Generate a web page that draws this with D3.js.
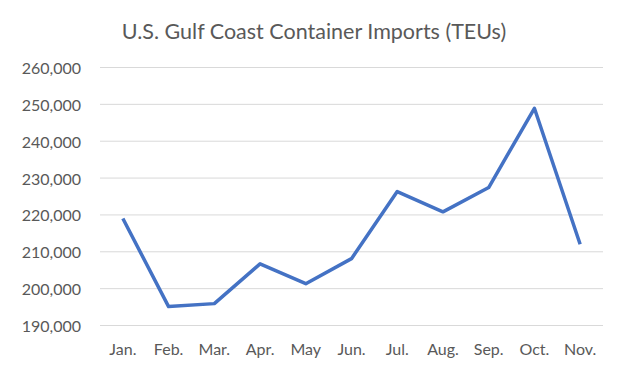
<!DOCTYPE html>
<html>
<head>
<meta charset="utf-8">
<script src="https://cdn.jsdelivr.net/npm/d3@7"></script>
<style>
  body { margin: 0; background: #fff; }
  svg { display: block; }
</style>
</head>
<body>
<svg width="628" height="376"></svg>
<script>
const months = ['Jan.', 'Feb.', 'Mar.', 'Apr.', 'May', 'Jun.', 'Jul.', 'Aug.', 'Sep.', 'Oct.', 'Nov.']
const imports = [218900, 195000, 195800, 206600, 201200, 208000, 226200, 220700, 227300, 248800, 211900]
const yTicks = [190000, 200000, 210000, 220000, 230000, 240000, 250000, 260000]

const font = 'Lato, "Open Sans", sans-serif'
const svg = d3.select('svg')
const margin = { top: 67, right: 25, bottom: 51, left: 100 }
const width = +svg.attr('width')
const height = +svg.attr('height')
const innerWidth = width - margin.left - margin.right
const innerHeight = height - margin.top - margin.bottom

const g = svg.append('g')
  .attr('transform', `translate(${margin.left},${margin.top})`)

const xScale = d3.scaleBand()
  .domain(months)
  .range([0, innerWidth])

const yScale = d3.scaleLinear()
  .domain([190000, 260000])
  .range([innerHeight, 0])

// gridlines + labels
const yAxis = d3.axisLeft(yScale)
  .tickValues(yTicks)
  .tickFormat(d3.format(','))
  .tickSize(-innerWidth)
  .tickPadding(19)

const yAxisGroup = g.append('g').call(yAxis)
  .attr('font-family', font)
  .attr('font-size', 16)
yAxisGroup.select('.domain').remove()
yAxisGroup.selectAll('line').attr('stroke', '#d9d9d9').attr('stroke-width', 1)
yAxisGroup.selectAll('text')
  .attr('fill', '#595959')
  .attr('dy', null)
  .attr('dominant-baseline', 'central')

const xAxis = d3.axisBottom(xScale)
  .tickSize(0)
  .tickPadding(16)

const xAxisGroup = g.append('g').call(xAxis)
  .attr('transform', `translate(0,${innerHeight})`)
  .attr('font-family', font)
  .attr('font-size', 16)
xAxisGroup.select('.domain').remove()
xAxisGroup.selectAll('text')
  .attr('fill', '#595959')
  .attr('dy', null)
  .attr('y', 30)

const line = d3.line()
  .x((d, i) => xScale(months[i]) + xScale.bandwidth() / 2)
  .y(d => yScale(d))

g.append('path')
  .attr('d', line(imports))
  .attr('fill', 'none')
  .attr('stroke', '#4472c4')
  .attr('stroke-width', 3.5)
  .attr('stroke-linejoin', 'round')

svg.append('text')
  .attr('x', 314)
  .attr('y', 39)
  .attr('text-anchor', 'middle')
  .attr('font-family', font)
  .attr('font-size', 21.5)
  .attr('fill', '#595959')
  .text('U.S. Gulf Coast Container Imports (TEUs)')
</script>
</body>
</html>
